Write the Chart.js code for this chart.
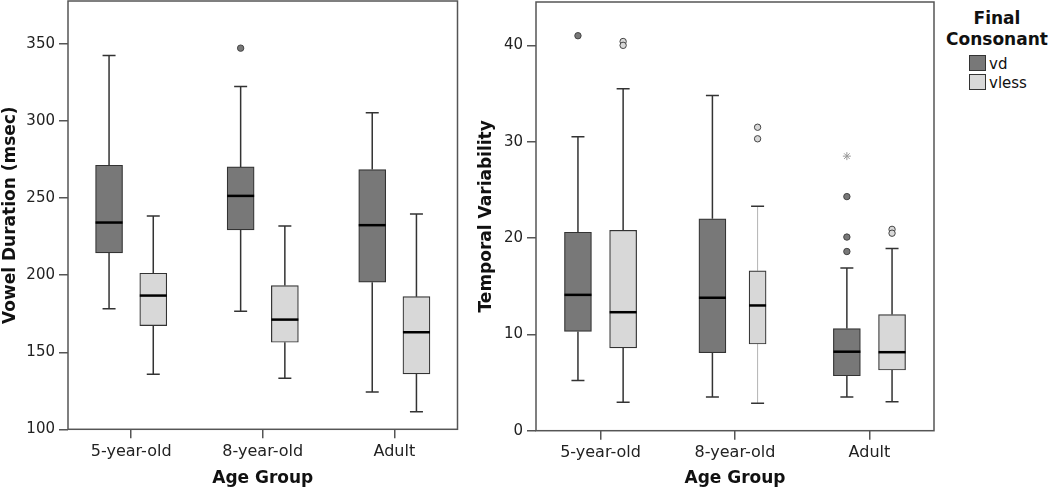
<!DOCTYPE html>
<html>
<head>
<meta charset="utf-8">
<script src="https://cdn.jsdelivr.net/npm/chart.js@4.4.1/dist/chart.umd.min.js"></script>
<style>
  body { margin: 0; background: #fff; width: 1050px; height: 490px; position: relative; overflow: hidden; font-family: "DejaVu Sans", sans-serif; }
  #durChart { position: absolute; left: 0; top: 0; }
  #tvChart { position: absolute; left: 460px; top: 0; }
  #legend { position: absolute; left: 940px; top: 0; width: 110px; height: 100px; color: #111; }
  #legend .ttl { position: absolute; left: 0; width: 114px; text-align: center; font-weight: bold; font-size: 17px; line-height: 20px; }
  #legend .item { position: absolute; left: 29px; font-size: 15px; line-height: 18px; }
  #legend .sw { display: inline-block; width: 15px; height: 14px; border: 1px solid #333; vertical-align: -2px; margin-right: 3px; }
</style>
</head>
<body>
<canvas id="durChart" width="460" height="490"></canvas>
<canvas id="tvChart" width="480" height="490"></canvas>
<div id="legend">
  <div class="ttl" style="top:8px">Final</div>
  <div class="ttl" style="top:29px">Consonant</div>
  <div class="item" style="top:55px"><span class="sw" style="background:#787878"></span>vd</div>
  <div class="item" style="top:74px"><span class="sw" style="background:#d8d8d8"></span>vless</div>
</div>
<script>
const ageGroups = ['5-year-old', '8-year-old', 'Adult'];

// [min, q1, median, q3, max] per age group
const durVd = [[178.3, 214.5, 234.2, 271.4, 342.6], [176.6, 229.4, 251.5, 270.3, 322.5], [124.2, 195.5, 232.5, 268.6, 305.4]];
const durVless = [[135.7, 167.3, 186.8, 201.3, 238.5], [133.1, 156.5, 171.2, 193.3, 232.0], [111.4, 135.9, 163.0, 186.1, 239.8]];
const durVdOut = [[], [347.4], []];
const durVlessOut = [[], [], []];
const durTicks = [100, 150, 200, 250, 300, 350];

const tvVd = [[5.2, 10.3, 14.1, 20.6, 30.5], [3.5, 8.1, 13.8, 22.0, 34.8], [3.5, 5.7, 8.2, 10.6, 16.9]];
const tvVless = [[2.95, 8.6, 12.3, 20.8, 35.5], [2.85, 9.0, 13.0, 16.6, 23.3], [3.0, 6.3, 8.15, 12.05, 18.9]];
const tvVdOut = [[41.0], [], [24.3, 20.1, 18.6]];
const tvVdExtreme = [[], [], [28.5]];
const tvVlessOut = [[40.4, 40.0], [31.5, 30.3], [20.9, 20.5]];
const tvTicks = [0, 10, 20, 30, 40];

const FONT = '"DejaVu Sans", sans-serif';
const VD_COLOR = '#787878';
const VLESS_COLOR = '#d8d8d8';
const EDGE = '#333';
const SHIFT = 0.168;

function boxData(stats, shift, keep) {
    return stats
        .map((s, i) => keep(i) ? { x: i + 1 + shift, y: [s[1], s[3]] } : null)
        .filter(Boolean);
}

function pointData(outs, shift) {
    return outs.flatMap((arr, i) => arr.map(v => ({ x: i + 1 + shift, y: v })));
}

// whiskers, medians and frame, placed with the chart scales
const boxPlugin = {
    id: 'boxes',
    beforeDatasetsDraw(chart, args, opts) {
        const { ctx, scales: { x, y } } = chart;
        ctx.save();
        opts.series.forEach((ser, s) => {
            ser.stats.forEach((st, i) => {
                const faint = opts.thin && opts.thin[0] === s && opts.thin[1] === i;
                const px = x.getPixelForValue(i + 1 + ser.shift);
                const yMin = y.getPixelForValue(st[0]);
                const yQ1 = y.getPixelForValue(st[1]);
                const yQ3 = y.getPixelForValue(st[3]);
                const yMax = y.getPixelForValue(st[4]);
                ctx.strokeStyle = faint ? '#b5b5b5' : EDGE;
                ctx.lineWidth = faint ? 1 : 1.5;
                ctx.beginPath();
                ctx.moveTo(px, yQ3); ctx.lineTo(px, yMax);
                ctx.moveTo(px, yQ1); ctx.lineTo(px, yMin);
                ctx.stroke();
                ctx.strokeStyle = EDGE;
                ctx.lineWidth = 1.5;
                ctx.beginPath();
                ctx.moveTo(px - 6.5, yMax); ctx.lineTo(px + 6.5, yMax);
                ctx.moveTo(px - 6.5, yMin); ctx.lineTo(px + 6.5, yMin);
                ctx.stroke();
            });
        });
        ctx.restore();
    },
    afterDatasetsDraw(chart, args, opts) {
        const { ctx, scales: { x, y } } = chart;
        ctx.save();
        ctx.strokeStyle = '#000';
        ctx.lineWidth = 2.5;
        opts.series.forEach((ser, s) => {
            ser.stats.forEach((st, i) => {
                const faint = opts.thin && opts.thin[0] === s && opts.thin[1] === i;
                const half = (faint ? 17 : 27) / 2;
                const px = x.getPixelForValue(i + 1 + ser.shift);
                const py = y.getPixelForValue(st[2]);
                ctx.beginPath();
                ctx.moveTo(px - half, py); ctx.lineTo(px + half, py);
                ctx.stroke();
            });
        });
        const a = chart.chartArea;
        ctx.strokeStyle = '#555';
        ctx.lineWidth = 1.5;
        ctx.strokeRect(a.left, a.top, a.right - a.left, a.bottom - a.top);
        ctx.restore();
    }
};

function boxSet(data, color, width) {
    return {
        type: 'bar',
        data: data,
        backgroundColor: color,
        borderColor: EDGE,
        borderWidth: 1.2,
        borderSkipped: false,
        barThickness: width,
        grouped: false,
        order: 2
    };
}

function outlierSet(data, color, style, radius) {
    return {
        type: 'scatter',
        data: data,
        pointStyle: style,
        pointRadius: radius,
        backgroundColor: color,
        borderColor: style === 'star' ? '#999' : '#444',
        borderWidth: 1,
        order: 1
    };
}

function makeOptions(cfg) {
    return {
        responsive: false,
        animation: false,
        layout: { padding: cfg.padding, autoPadding: false },
        plugins: {
            legend: { display: false },
            tooltip: { enabled: false },
            boxes: cfg.boxes
        },
        scales: {
            x: {
                type: 'linear',
                min: 0.52,
                max: 3.48,
                offset: false,
                afterBuildTicks: s => { s.ticks = ageGroups.map((_, i) => ({ value: i + 1 })); },
                afterFit: s => { s.height = cfg.xHeight; s.paddingLeft = 0; s.paddingRight = 0; },
                ticks: {
                    callback: v => ageGroups[v - 1],
                    autoSkip: false,
                    maxRotation: 0,
                    padding: 4,
                    color: '#222',
                    font: { family: FONT, size: 16 }
                },
                grid: { drawOnChartArea: false, drawTicks: true, tickLength: 9, color: '#555', lineWidth: 1.5, offset: false },
                border: { display: false },
                title: { display: true, text: 'Age Group', color: '#111', font: { family: FONT, size: 17, weight: 'bold' }, padding: { top: 0, bottom: 1 } }
            },
            y: {
                min: cfg.yMin,
                max: cfg.yMax,
                afterBuildTicks: s => { s.ticks = cfg.yTicks.map(v => ({ value: v })); },
                afterFit: s => { s.width = cfg.yWidth; s.paddingTop = 0; s.paddingBottom = 0; },
                ticks: { padding: 4, color: '#222', font: { family: FONT, size: 15 } },
                grid: { drawOnChartArea: false, drawTicks: true, tickLength: 9, color: '#555', lineWidth: 1.5 },
                border: { display: false },
                title: { display: true, text: cfg.yTitle, color: '#111', font: { family: FONT, size: 17, weight: 'bold' }, padding: { top: cfg.yTitlePad, bottom: 0 } }
            }
        }
    };
}

new Chart(document.getElementById('durChart'), {
    type: 'bar',
    data: {
        datasets: [
            boxSet(boxData(durVd, -SHIFT, () => true), VD_COLOR, 27),
            boxSet(boxData(durVless, SHIFT, () => true), VLESS_COLOR, 27),
            outlierSet(pointData(durVdOut, -SHIFT), VD_COLOR, 'circle', 3.2),
            outlierSet(pointData(durVlessOut, SHIFT), VLESS_COLOR, 'circle', 3.2)
        ]
    },
    options: makeOptions({
        padding: { top: 1, right: 2.5, left: 0, bottom: 0 },
        xHeight: 60.7,
        yWidth: 68,
        yMin: 100,
        yMax: 378,
        yTicks: durTicks,
        yTitle: 'Vowel Duration (msec)',
        yTitlePad: 0,
        boxes: { series: [{ stats: durVd, shift: -SHIFT }, { stats: durVless, shift: SHIFT }] }
    }),
    plugins: [boxPlugin]
});

new Chart(document.getElementById('tvChart'), {
    type: 'bar',
    data: {
        datasets: [
            boxSet(boxData(tvVd, -SHIFT, () => true), VD_COLOR, 27),
            boxSet(boxData(tvVless, SHIFT, i => i !== 1), VLESS_COLOR, 27),
            boxSet(boxData(tvVless, SHIFT, i => i === 1), VLESS_COLOR, 17),
            outlierSet(pointData(tvVdOut, -SHIFT), VD_COLOR, 'circle', 3.2),
            outlierSet(pointData(tvVdExtreme, -SHIFT), '#999', 'star', 4),
            outlierSet(pointData(tvVlessOut, SHIFT), VLESS_COLOR, 'circle', 3.2)
        ]
    },
    options: makeOptions({
        padding: { top: 2, right: 6, left: 0, bottom: 0 },
        xHeight: 59.3,
        yWidth: 76,
        yMin: 0,
        yMax: 44.5,
        yTicks: tvTicks,
        yTitle: 'Temporal Variability',
        yTitlePad: 16,
        boxes: { series: [{ stats: tvVd, shift: -SHIFT }, { stats: tvVless, shift: SHIFT }], thin: [1, 1] }
    }),
    plugins: [boxPlugin]
});
</script>
</body>
</html>
